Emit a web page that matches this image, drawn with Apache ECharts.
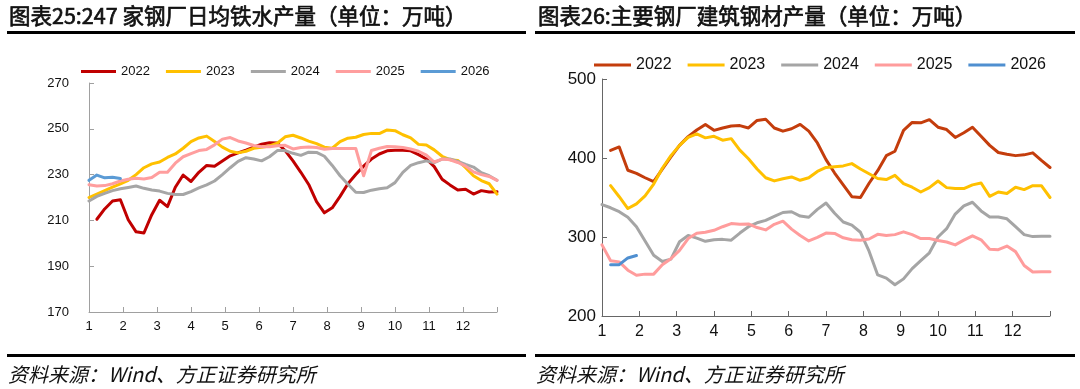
<!DOCTYPE html>
<html>
<head>
<meta charset="utf-8">
<script src="https://cdn.jsdelivr.net/npm/echarts@6/dist/echarts.min.js"></script>
<style>
html,body{margin:0;padding:0;background:#fff;}
#left{position:absolute;left:0;top:0;width:532px;height:389px;}
#right{position:absolute;left:532px;top:0;width:548px;height:389px;}
</style>
</head>
<body>
<div id="left"></div>
<div id="right"></div>
<script>
// ---------- data ----------
const monthLabels = ['1','2','3','4','5','6','7','8','9','10','11','12'];
const WEEKS_PER_YEAR = 52;
const seriesNames = ['2022','2023','2024','2025','2026'];

// Chart 25: 247 mills daily hot metal output (10k t), weekly
const hot2022 = [null,210.5,215,218.5,219,210.3,205,204.5,212.5,218.8,216,224.5,229.8,227,231,234,233.6,235.9,238.2,239.5,240.7,242,243.3,243.9,243.8,240.5,236,231,225.7,218.2,213.3,215.5,220.5,226,230,233.7,236.8,239,240.4,240.6,240.6,240.4,238.7,236.8,233.5,228,225.5,223.3,223.6,221.5,223,222.4,222.5];
const hot2023 = [220,221.5,223,224.5,226,227.5,230,233,234.7,235.5,237.5,239,241.5,244.4,246,246.8,244.5,242,240.2,239.5,240.2,241.5,241.9,242.5,243.7,246.5,247.2,246,244.6,243.5,242,241.5,244.4,245.9,246.3,247.5,248,247.9,249.5,249.2,247.4,246,243.2,242.9,240.8,238,236.5,236.2,233,229.5,227.4,226,221.5];
const hot2024 = [218.5,220.5,221.8,223,223.8,224.4,225,224,223.3,222.8,221.8,221.3,221.3,222.6,224.2,225.5,227.2,230,233,235.8,237.4,236.8,236,237.8,240.5,240.5,239.3,238.4,239.8,239.7,238,234,229.5,225.8,222.3,222.2,223.2,223.8,224.3,226.5,231,234,235.2,236,235.2,236.8,236.8,235.8,234.5,233.3,230.8,229.5,227.5];
const hot2025 = [225.6,225,225.2,226,227.2,228,228.4,228.1,228.7,231,231,235,237.8,239.2,240.5,241,243,245.5,246.2,244.7,243.8,242.7,242.2,242.2,242.6,242.8,241.2,241.8,242.1,241.8,241.1,241.4,241.4,241.4,241.4,229.5,240.5,241.5,242.3,242.2,241.8,241.2,240.2,238.5,235.5,236.8,236.5,235.3,233.7,231.2,230,229.2,227.5];
const hot2026 = [227.5,229.8,228.6,228.8,228.3];
const hotTicks = {min:170, max:270, interval:20};

// Chart 26: major mills construction steel output (10k t), weekly
const rebar2022 = [null,409.7,414,384.5,380.5,375,370,386,401.5,416,427,435.5,442.5,435,438,440.5,441,438,447.5,449,438,434,437,442.5,434,419,398,381,366,351,350,368,384,403,408.5,435,445,444.5,448.5,439,436,426,432,439,427.5,416,407,404.8,403,404,406.5,397,388];
const rebar2023 = [null,365,351,336,342,352,367,387,403,416,426,430.5,425.5,427.5,422.5,424.5,410,399,386,375,371,373.8,376,371.8,375,383,388,389,390,392.9,386,380,374,372.7,378,367.6,363,357,362.5,370.8,362.5,361.3,361.3,366,368.4,351.5,357,355,363,360,365,365,350];
const rebar2024 = [341,337,332,325,313,295,277,269,272,294,302,298.5,294.5,296.5,297,296,305,313,318,321,326,331,332,326.5,325,335,343,330,319,315,306,282,252,248,239.5,247,260,270,280,300,310.5,329,339.5,344,333,325.3,325.3,323,313,303,300.5,301,301];
const rebar2025 = [290,270,268.5,258,251.5,253,253,265,272.5,283,298,304.7,306,308.5,313,317,316,316.5,312,309,316,320,310,302,295,299.5,305,304.5,299,296.5,296,297.5,303.4,302,303,306.5,303,298,298,295.5,293.7,290,296,301.5,296.5,284.5,284,288.5,281.5,264,255.7,256,256];
const rebar2026 = [null,265,265,273.5,276.5];
const rebarTicks = {min:200, max:500, interval:100};

const titleLeft = '图表25:247 家钢厂日均铁水产量（单位：万吨）';
const titleRight = '图表26:主要钢厂建筑钢材产量（单位：万吨）';
const sourceText = '资料来源：Wind、方正证券研究所';

// ---------- helpers ----------
function toPoints(arr){
  return arr.map((v,i)=>[i*12/WEEKS_PER_YEAR, v]);
}
const FONT = '"Liberation Sans", Arial, sans-serif';
const CJK = '"Noto Sans CJK SC", sans-serif';

function build(cfg){
  const series = cfg.data.map((arr,k)=>({
    name: seriesNames[k],
    type:'line',
    data: toPoints(arr),
    showSymbol:false,
    symbol:'none',
    connectNulls:false,
    lineStyle:{width:3,color:cfg.colors[k],cap:'round',join:'round'},
    itemStyle:{color:cfg.colors[k]},
    emphasis:{disabled:true},
    animation:false,
    z: 2+k
  }));
  return {
    animation:false,
    textStyle:{fontFamily:FONT},
    title:{
      text:cfg.title, left:cfg.titleX, top:cfg.titleTop, padding:0,
      textStyle:{fontFamily:CJK,fontSize:cfg.titleSize,fontWeight:'normal',color:'#111',
                 textBorderColor:'#111',textBorderWidth:0.7}
    },
    graphic:[
      {type:'rect',shape:{x:cfg.lineX0,y:31,width:cfg.lineX1-cfg.lineX0,height:3},style:{fill:'#000'},silent:true},
      {type:'rect',shape:{x:cfg.lineX0,y:354,width:cfg.lineX1-cfg.lineX0,height:3},style:{fill:'#000'},silent:true},
      {type:'text',x:cfg.lineX0+1,y:364,silent:true,
       style:{text:sourceText,font:'italic 20px '+CJK,fill:'#111'}}
    ],
    legend:{
      data:seriesNames, left:cfg.legendLeft, top:cfg.legendTop,
      icon:'rect', itemWidth:cfg.legendIconW, itemHeight:3, itemGap:cfg.legendGap,
      textStyle:{fontSize:cfg.legendFont,color:'#111',fontFamily:FONT},
      selectedMode:false
    },
    grid:cfg.grid,
    xAxis:{
      type:'value', min:0, max:12, interval:1,
      axisLine:{lineStyle:{color:cfg.axisColor,width:1}},
      axisTick:{show:true,inside:true,length:5,lineStyle:{color:cfg.axisColor}},
      splitLine:{show:false},
      axisLabel:{
        fontSize:cfg.xFont, color:'#111', margin:cfg.xMargin, fontFamily:FONT,
        formatter:(v)=> (v>=0 && v<12) ? monthLabels[Math.round(v)] : ''
      }
    },
    yAxis:{
      type:'value', min:cfg.ticks.min, max:cfg.ticks.max, interval:cfg.ticks.interval,
      axisLine:{show:true,lineStyle:{color:cfg.axisColor,width:1}},
      axisTick:{show:true,inside:true,length:5,lineStyle:{color:cfg.axisColor}},
      splitLine:{show:false},
      axisLabel:{fontSize:cfg.yFont,color:'#111',margin:cfg.yMargin,fontFamily:FONT}
    },
    series
  };
}

const leftChart = echarts.init(document.getElementById('left'), null, {renderer:'canvas'});
leftChart.setOption(build({
  title:titleLeft, titleX:9, titleTop:5, titleSize:21.5,
  lineX0:7, lineX1:526,
  legendLeft:76, legendTop:60, legendIconW:35, legendGap:16, legendFont:13,
  grid:{left:89,right:35,top:83,bottom:77},
  axisColor:'#A0A0A0', xFont:13, xMargin:8, yFont:13, yMargin:20,
  ticks:hotTicks,
  data:[hot2022,hot2023,hot2024,hot2025,hot2026],
  colors:['#C00000','#FFC000','#A6A6A6','#FF9E9E','#5B9BD5']
}));

const rightChart = echarts.init(document.getElementById('right'), null, {renderer:'canvas'});
rightChart.setOption(build({
  title:titleRight, titleX:6, titleTop:5, titleSize:21.5,
  lineX0:3, lineX1:543,
  legendLeft:57, legendTop:52, legendIconW:37, legendGap:16, legendFont:16,
  grid:{left:70,right:30,top:79,bottom:73},
  axisColor:'#666666', xFont:16, xMargin:8, yFont:17, yMargin:6,
  ticks:rebarTicks,
  data:[rebar2022,rebar2023,rebar2024,rebar2025,rebar2026],
  colors:['#C43D0C','#FFC000','#A5A5A5','#FF9C9C','#4F8FD0']
}));
</script>
</body>
</html>
